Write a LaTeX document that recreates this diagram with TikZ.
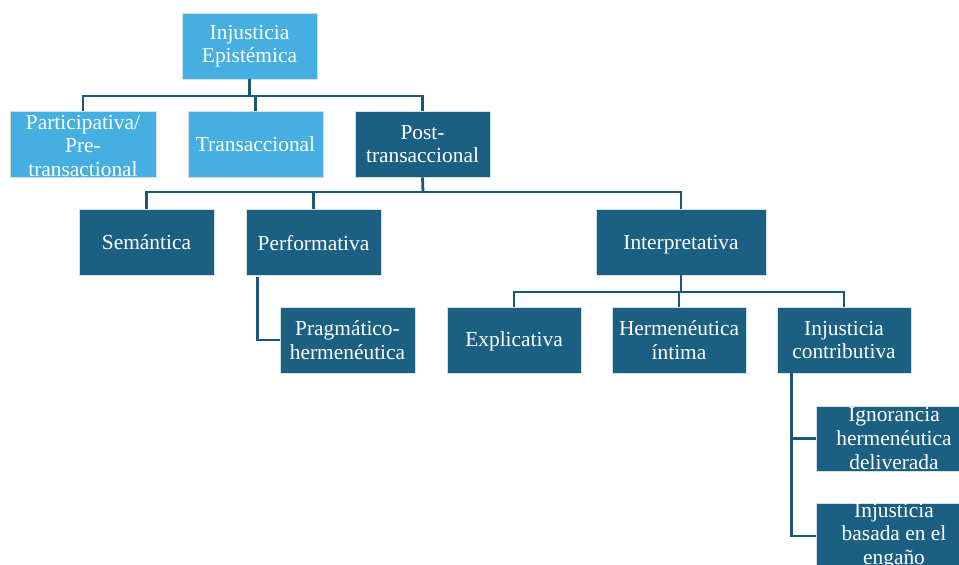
\documentclass[tikz,border=0pt]{standalone}
\usepackage{fontspec}
\setmainfont{Liberation Serif}
\usetikzlibrary{calc}
\definecolor{lightb}{HTML}{46AFE2}
\definecolor{darkb}{HTML}{1B6083}
\definecolor{linec}{HTML}{1B5877}
\begin{document}
\begin{tikzpicture}[x=1pt,y=-1pt,
  box/.style={rectangle, draw=white!80!darkb, line width=0.8pt, inner sep=0pt, minimum width=135pt, minimum height=66pt},
  lbox/.style={box, fill=lightb},
  dbox/.style={box, fill=darkb},
  txt/.style={text=white, align=center, inner sep=0pt, font=\fontsize{21.4}{23.6}\selectfont},
  conn/.style={draw=linec, line width=2.8pt}]
\useasboundingbox (0,0) rectangle (959,565);
\clip (0,0) rectangle (959,565);

\coordinate (j1) at (250,96);
\coordinate (j2) at (423,192);
\coordinate (j3) at (680,292);

% boxes
\node[lbox] (root) at (249.5,46) {};
\node[lbox, minimum width=146pt] (p1) at (83,144) {};
\node[lbox] (p2) at (255.5,144) {};
\node[dbox] (p3) at (422.5,144) {};
\node[dbox] (sem) at (146.5,242) {};
\node[dbox] (perf) at (313.5,242) {};
\node[dbox, minimum width=170pt] (interp) at (681,242) {};
\node[dbox] (prag) at (347.5,340) {};
\node[dbox, minimum width=134pt] (expl) at (514,340) {};
\node[dbox, minimum width=134pt] (herm) at (679,340) {};
\node[dbox, minimum width=134pt] (contrib) at (844,340) {};
\node[dbox, minimum width=156pt, minimum height=65pt] (ig) at (894,438.5) {};
\node[dbox, minimum width=156pt] (ba) at (894,536) {};

% connectors
\draw[conn] (root.south) -- (root.south |- j1);
\draw[conn] (p1.north) |- (p3.north |- j1) -- (p3.north);
\draw[conn] (p2.north) -- (p2.north |- j1);

\draw[conn] (p3.south) -- (j2);
\draw[conn] (sem.north) |- (interp.north |- j2) -- (interp.north);
\draw[conn] (perf.north) -- (perf.north |- j2);

\draw[conn] (interp.south) -- (interp.south |- j3);
\draw[conn] (expl.north) |- (contrib.north |- j3) -- (contrib.north);
\draw[conn] (herm.north) -- (herm.north |- j3);

\draw[conn] ($(perf.south west)+(12,2)$) |- (prag.west);
\draw[conn] ($(contrib.south west)+(15,2)$) |- (ig.west);
\draw[conn] ($(contrib.south west)+(15,0)$) |- (ba.west);

% texts
\node[txt] at (root) {Injusticia\\Epistémica};
\node[txt, yshift=-2pt] at (p1) {Participativa/\\Pre-\\transactional};
\node[txt] at (p2) {Transaccional};
\node[txt] at (p3) {Post-\\transaccional};
\node[txt] at (sem) {Semántica};
\node[txt, yshift=-1pt] at (perf) {Performativa};
\node[txt, yshift=-3pt] at (interp) {Interpretativa};
\node[txt] at (prag) {Pragmático-\\hermenéutica};
\node[txt, yshift=-1pt] at (expl) {Explicativa};
\node[txt] at (herm) {Hermenéutica\\íntima};
\node[txt] at (contrib) {Injusticia\\contributiva};
\node[txt] at (ig) {Ignorancia\\hermenéutica\\deliverada};
\node[txt] at (ba) {Injusticia\\basada en el\\engaño};
\end{tikzpicture}
\end{document}
